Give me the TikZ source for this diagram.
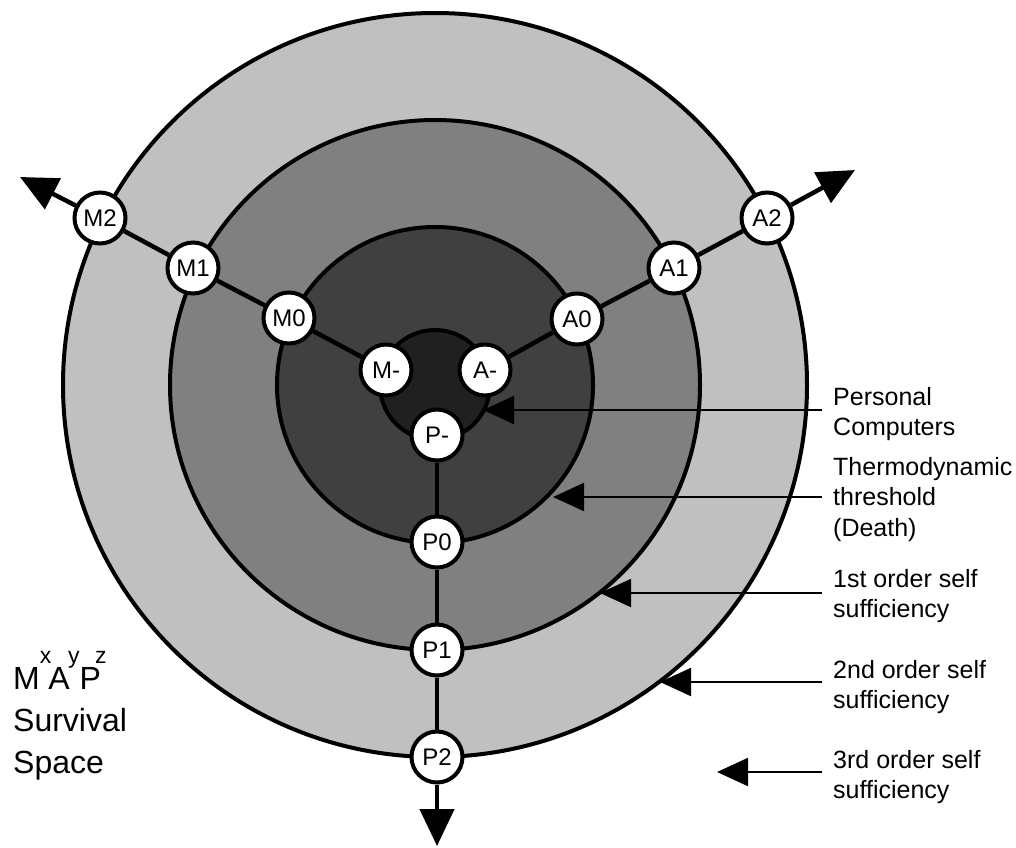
\documentclass[tikz,border=0pt]{standalone}
\usepackage{fontspec}
\setmainfont{Liberation Sans}
\usetikzlibrary{arrows.meta}

\definecolor{ringA}{HTML}{C0C0C0}
\definecolor{ringB}{HTML}{808080}
\definecolor{ringC}{HTML}{404040}
\definecolor{ringD}{HTML}{202020}

% raised exponent letter used in the M^x A^y P^z title
\newcommand\expletter[1]{\raisebox{26pt}{\fontsize{23}{23}\selectfont #1}}

\begin{document}
\begin{tikzpicture}[x=1pt,y=-1pt,
  ring/.style={draw=black, line width=4pt},
  stage/.style={circle, draw=black, fill=white, line width=4pt,
    minimum size=51pt, inner sep=0pt, font=\fontsize{24}{24}\selectfont},
  axis/.style={line width=4.5pt},
  axisend/.style={axis, -{Triangle[length=37pt,width=34pt]}},
  pointer/.style={line width=2pt, -{Triangle[length=31pt,width=28pt]}},
  caption/.style={anchor=north west, inner sep=0pt, align=left,
    font=\fontsize{25}{30.5}\selectfont}
]
\useasboundingbox (0,0) rectangle (1016,847);

% concentric survival rings, outermost first
\draw[ring, fill=ringA] (435,385) circle[radius=372pt];
\draw[ring, fill=ringB] (435,385) circle[radius=265pt];
\draw[ring, fill=ringC] (435,385) circle[radius=158pt];
\draw[ring, fill=ringD] (435,385) circle[radius=55pt];

% stage nodes on the three axes
\node[stage] (Mm) at (386,370) {M-};
\node[stage] (M0) at (289,318) {M0};
\node[stage] (M1) at (193,268) {M1};
\node[stage] (M2) at (100,218) {M2};
\node[stage] (Am) at (485,370) {A-};
\node[stage] (A0) at (577,319) {A0};
\node[stage] (A1) at (674,268) {A1};
\node[stage] (A2) at (767,218) {A2};
\node[stage] (Pm) at (437,435) {P-};
\node[stage] (P0) at (437,542) {P0};
\node[stage] (P1) at (437,650) {P1};
\node[stage] (P2) at (437,757) {P2};

\coordinate (Mtip) at (20,177);
\coordinate (Atip) at (855,170);
\coordinate (Ptip) at (437,846);

\draw[axis] (Mm) -- (M0);
\draw[axis] (M0) -- (M1);
\draw[axis] (M1) -- (M2);
\draw[axisend] (M2) -- (Mtip);
\draw[axis] (Am) -- (A0);
\draw[axis] (A0) -- (A1);
\draw[axis] (A1) -- (A2);
\draw[axisend] (A2) -- (Atip);
\draw[axis] (Pm) -- (P0);
\draw[axis] (P0) -- (P1);
\draw[axis] (P1) -- (P2);
\draw[axisend] (P2) -- (Ptip);

% legend captions
\node[caption] (pc) at (833,387) {Personal\\Computers};
\node[caption] (thermo) at (833,457) {Thermodynamic\\threshold\\(Death)};
\node[caption] (first) at (833,569) {1st order self\\sufficiency};
\node[caption] (second) at (833,660) {2nd order self\\sufficiency};
\node[caption] (third) at (833,750) {3rd order self\\sufficiency};

% pointers from the captions to the rings
\coordinate (pcS) at (822,410);  \coordinate (pcT) at (483,410);
\coordinate (thS) at (822,497);  \coordinate (thT) at (553,497);
\coordinate (fiS) at (822,593);  \coordinate (fiT) at (600,593);
\coordinate (seS) at (822,682);  \coordinate (seT) at (660,682);
\coordinate (thdS) at (822,772); \coordinate (thdT) at (717,772);
\draw[pointer] (pcS) -- (pcT);
\draw[pointer] (thS) -- (thT);
\draw[pointer] (fiS) -- (fiT);
\draw[pointer] (seS) -- (seT);
\draw[pointer] (thdS) -- (thdT);

% title; the base anchor sits on the last line
\node[anchor=base west, inner sep=0pt, align=left,
  font=\fontsize{32}{42}\selectfont] (title) at (13,773)
  {M\expletter{x}\kern-3pt A\kern-1.5pt\expletter{y}P\kern-6pt\expletter{z}\\Survival\\Space};
\end{tikzpicture}
\end{document}
